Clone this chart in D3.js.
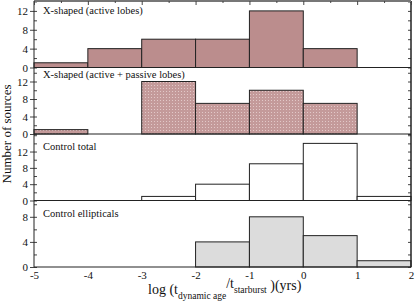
<!DOCTYPE html>
<html lang="en">
<head>
<meta charset="UTF-8">
<title>Histograms</title>
<script src="https://d3js.org/d3.v7.min.js"></script>
<style>
  body { margin: 0; background: #fff; }
  text { font-family: "Liberation Serif", "DejaVu Serif", serif; fill: #111; }
</style>
</head>
<body>
<script>
// bin edges along the x axis
var binEdges = [-5, -4, -3, -2, -1, 0, 1, 2];
var xTicks = [-5, -4, -3, -2, -1, 0, 1, 2];

var panelTitles = ["X-shaped (active lobes)", "X-shaped (active + passive lobes)", "Control total", "Control ellipticals"];
var activeLobes  = [1, 4, 6, 6, 12, 4, 0];
var allLobes     = [1, 0, 12, 7, 10, 7, 0];
var controlTotal = [0, 0, 1, 4, 9, 14, 1];
var controlEll   = [0, 0, 0, 4, 8, 5, 1];
var yMaxes = [14.1, 15.2, 16.3, 10.6];
var yTickSets = [[0, 4, 8, 12], [0, 4, 8, 12], [0, 4, 8, 12], [0, 4, 8]];

var series = [activeLobes, allLobes, controlTotal, controlEll];

var W = 415, H = 303;
var mLeft = 34, mRight = 411, mTop = 1, mBottom = 267;
var ph = (mBottom - mTop) / 4;
var fills = ["#bb8d8d", "url(#dots)", "#ffffff", "#dcdcdc"];
var titleOffsets = [13, 10, 16, 16.5];

var svg = d3.select("body").append("svg").attr("width", W).attr("height", H);

var defs = svg.append("defs");
var pat = defs.append("pattern").attr("id", "dots")
  .attr("patternUnits", "userSpaceOnUse").attr("width", 3).attr("height", 3);
pat.append("rect").attr("width", 3).attr("height", 3).attr("fill", "#c49a9a");
pat.append("rect").attr("x", 1).attr("y", 1).attr("width", 1).attr("height", 1).attr("fill", "#e2c8c8");

var x = d3.scaleLinear().domain([-5, 2]).range([mLeft, mRight]);

function plain(a){ a.select(".domain").remove(); a.selectAll("line").attr("stroke", "#444"); }

series.forEach(function(vals, i){
  var y0 = mTop + i * ph;
  var y = d3.scaleLinear().domain([0, yMaxes[i]]).range([y0 + ph, y0]);
  var g = svg.append("g");

  var bins = vals.map(function(v, k){ return {x0: binEdges[k], x1: binEdges[k + 1], v: v}; })
    .filter(function(d){ return d.v > 0; });

  g.selectAll("rect.bar").data(bins).enter().append("rect")
    .attr("class", "bar")
    .attr("x", function(d){ return x(d.x0); })
    .attr("y", function(d){ return y(d.v); })
    .attr("width", function(d){ return x(d.x1) - x(d.x0); })
    .attr("height", function(d){ return y(0) - y(d.v); })
    .attr("fill", fills[i])
    .attr("stroke", "#222")
    .attr("stroke-width", 1);

  // left axis with inward minor ticks
  var minor = d3.range(0, yMaxes[i], 2);
  g.append("g").attr("transform", "translate(" + mLeft + ",0)")
    .call(d3.axisLeft(y).tickValues(minor).tickSize(-3).tickFormat(""))
    .call(plain);
  g.append("g").attr("transform", "translate(" + mLeft + ",0)")
    .call(d3.axisLeft(y).tickValues(yTickSets[i]).tickSize(4).tickPadding(2).tickFormat(function(d){ return d; }))
    .call(function(a){
      plain(a);
      a.selectAll("text").attr("font-size", 11).attr("font-family", "Liberation Serif");
    });
  // right axis ticks
  g.append("g").attr("transform", "translate(" + mRight + ",0)")
    .call(d3.axisRight(y).tickValues(minor).tickSize(-3).tickFormat(""))
    .call(plain);

  // baseline
  g.append("line").attr("x1", mLeft).attr("x2", mRight)
    .attr("y1", y(0)).attr("y2", y(0)).attr("stroke", "#222").attr("stroke-width", 1.2);

  g.append("text").attr("x", mLeft + 9).attr("y", y0 + titleOffsets[i])
    .attr("font-size", 10.5).text(panelTitles[i]);
});

// frame
svg.append("line").attr("x1", mLeft).attr("x2", mLeft).attr("y1", mTop).attr("y2", mBottom).attr("stroke", "#222");
svg.append("line").attr("x1", mRight).attr("x2", mRight).attr("y1", mTop).attr("y2", mBottom).attr("stroke", "#222").attr("stroke-width", 1.5);
svg.append("line").attr("x1", mLeft).attr("x2", mRight).attr("y1", mTop).attr("y2", mTop).attr("stroke", "#777").attr("stroke-width", 2);

// top ticks
var halfTicks = d3.range(-4.5, 2, 1);
svg.append("g").attr("transform", "translate(0," + mTop + ")")
  .call(d3.axisTop(x).tickValues(xTicks).tickSize(-4).tickFormat(""))
  .call(plain);
svg.append("g").attr("transform", "translate(0," + mTop + ")")
  .call(d3.axisTop(x).tickValues(halfTicks).tickSize(-2).tickFormat(""))
  .call(plain);

// bottom axis
svg.append("g").attr("transform", "translate(0," + mBottom + ")")
  .call(d3.axisBottom(x).tickValues(xTicks).tickSize(0).tickPadding(4).tickFormat(function(d){ return d; }))
  .call(function(a){
    a.select(".domain").remove();
    a.selectAll("text").attr("font-size", 11).attr("font-family", "Liberation Serif");
  });

// axis titles
svg.append("text").attr("transform", "translate(11," + (mTop + mBottom) / 2 + ") rotate(-90)")
  .attr("text-anchor", "middle").attr("font-size", 13).text("Number of sources");

var xt = svg.append("text").attr("x", 148).attr("y", 294).attr("font-size", 14);
xt.append("tspan").text("log (t");
xt.append("tspan").attr("dy", 5).attr("font-size", 9.5).text("dynamic age");
xt.append("tspan").attr("dy", -11).attr("font-size", 14).text("/t");
xt.append("tspan").attr("dy", 5).attr("font-size", 9.5).text("starburst");
xt.append("tspan").attr("dy", -3).attr("font-size", 14).text(" )(yrs)");
</script>
</body>
</html>
